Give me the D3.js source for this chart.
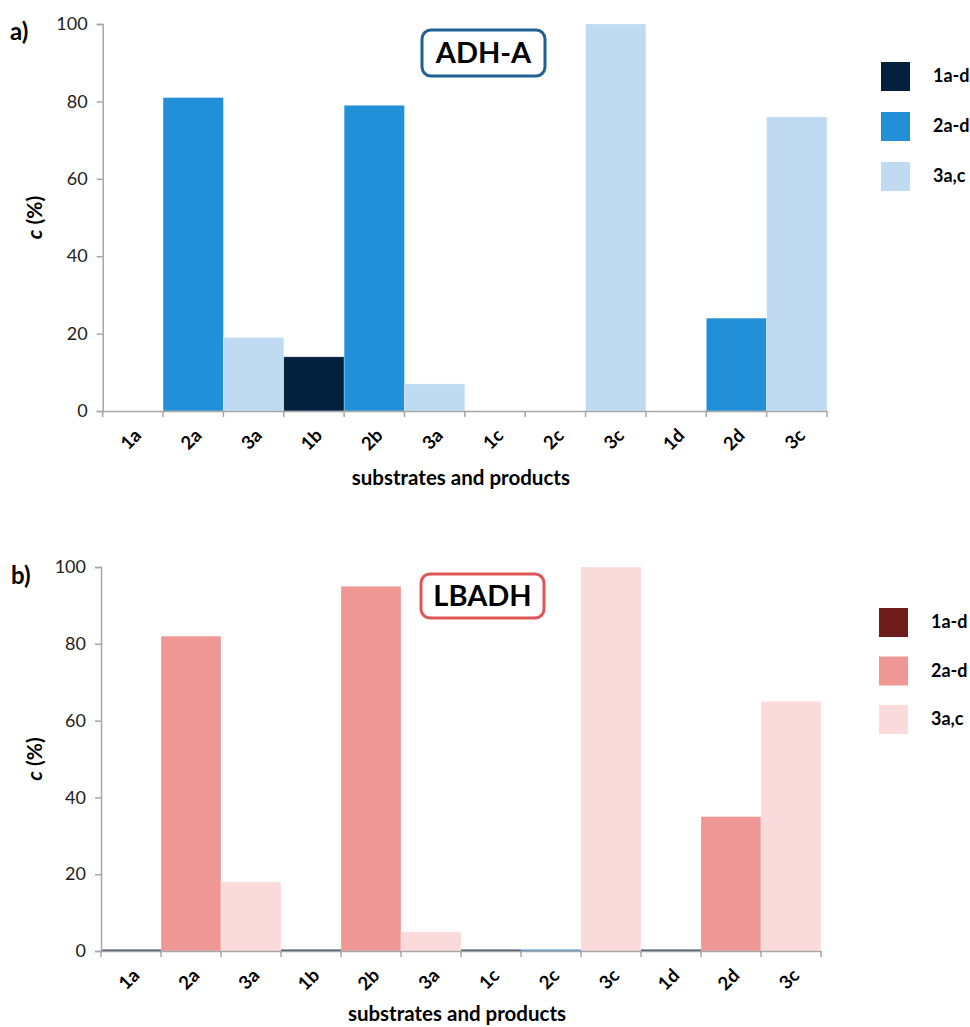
<!DOCTYPE html>
<html><head><meta charset="utf-8">
<script src="https://cdn.jsdelivr.net/npm/d3@7"></script>
<style>body{margin:0;background:#fff}svg{display:block}text{font-family:Lato,"Open Sans",sans-serif}</style>
</head><body>
<svg id="c" width="970" height="1027"></svg>
<script>
const categories = ["1a","2a","3a","1b","2b","3a","1c","2c","3c","1d","2d","3c"];
const compoundType = ["1","2","3","1","2","3","1","2","3","1","2","3"];
const valuesA = [0,81,19,14,79,7,0,0,100,0,24,76];
const valuesB = [0,82,18,0,95,5,0,0,100,0,35,65];
// tiny near-zero slivers visible on panel b baseline
const stubsB = [0.4,0,0,0.4,0,0,0.4,0.4,0,0.4,0,0];
const stubColorsB = ["#44546a","","","#44546a","","","#44546a","#5b9bd5","","#44546a","",""];
const yTicks = [0,20,40,60,80,100];
const legendLabels = ["1a-d","2a-d","3a,c"];
const colorsA = {"1":"#03203f","2":"#2190d8","3":"#c0daf2"};
const colorsB = {"1":"#6e1c1c","2":"#ef9794","3":"#fbdadb"};

const svg = d3.select("#c");

function panel(opt){
  const g = svg.append("g");
  const x = d3.scaleBand().domain(d3.range(categories.length)).range([opt.x0, opt.x1]).padding(0);
  const y = d3.scaleLinear().domain([0,100]).range([opt.yb, opt.yt]);
  g.selectAll("rect.bar").data(opt.values).join("rect")
    .attr("x",(d,i)=>x(i)).attr("width",x.bandwidth())
    .attr("y",d=>y(d)).attr("height",d=>y(0)-y(d))
    .attr("fill",(d,i)=>opt.colors[compoundType[i]])
    .attr("stroke","#fff").attr("stroke-width",0.6).attr("stroke-opacity",0.5);
  if(opt.stubs){
    g.selectAll("rect.stub").data(opt.stubs).join("rect")
      .attr("x",(d,i)=>x(i)).attr("width",x.bandwidth())
      .attr("y",d=>y(d)).attr("height",d=>y(0)-y(d))
      .attr("fill",(d,i)=>opt.stubColors[i]||"none");
  }
  const ya = g.append("g").attr("transform",`translate(${opt.x0},0)`)
    .call(d3.axisLeft(y).tickValues(yTicks).tickSize(6).tickPadding(9));
  ya.select(".domain").attr("stroke","#a6a6a6").attr("stroke-width",1.5);
  ya.selectAll(".tick line").attr("stroke","#a6a6a6").attr("stroke-width",1.5);
  ya.selectAll(".tick text").attr("fill","#222").style("font-size","18px").style("font-family","Lato,sans-serif");
  const xa = g.append("g").attr("transform",`translate(0,${opt.yb})`)
    .call(d3.axisBottom(x).tickSize(0).tickFormat(""));
  xa.select(".domain").attr("stroke","#a6a6a6").attr("stroke-width",1.5);
  const edges = d3.range(categories.length+1).map(i=>opt.x0 + i*x.bandwidth());
  g.selectAll("line.xt").data(edges).join("line")
    .attr("x1",d=>d).attr("x2",d=>d).attr("y1",opt.yb).attr("y2",opt.yb+6)
    .attr("stroke","#a6a6a6").attr("stroke-width",1.5);
  g.selectAll("text.xl").data(categories).join("text")
    .attr("transform",(d,i)=>`translate(${x(i)+x.bandwidth()/2+5},${opt.yb+21}) rotate(-45)`)
    .attr("text-anchor","end").attr("dy","0.35em")
    .style("font-size","18.5px").style("font-weight","700").attr("fill","#000")
    .text(d=>d);
  g.append("text").attr("x",(opt.x0+opt.x1)/2 - 4).attr("y",opt.yb+opt.tOff)
    .attr("text-anchor","middle").style("font-size","20.5px").style("font-weight","700")
    .text("substrates and products");
  const yt = g.append("text").attr("transform",`translate(42,${(opt.yt+opt.yb)/2}) rotate(-90)`)
    .attr("text-anchor","middle").style("font-size","21px").style("font-weight","700");
  yt.append("tspan").style("font-style","italic").text("c");
  yt.append("tspan").text(" (%)");
  g.append("text").attr("x",opt.lx).attr("y",opt.ly).style("font-size","24px").style("font-weight","700").text(opt.label);
  g.append("rect").attr("x",opt.bx).attr("y",opt.by).attr("width",123).attr("height",opt.bh)
    .attr("rx",9).attr("fill","#fff").attr("stroke",opt.boxColor).attr("stroke-width",3);
  g.append("text").attr("x",opt.bx+61.5).attr("y",opt.by+opt.bh/2).attr("dy","0.36em")
    .attr("text-anchor","middle").style("font-size","29px").style("font-weight","700").text(opt.title);
  const lg = g.selectAll("g.leg").data(legendLabels).join("g")
    .attr("transform",(d,i)=>`translate(${opt.legX},${opt.legY + i*opt.legStep})`);
  lg.append("rect").attr("x",0).attr("y",-14).attr("width",29).attr("height",29)
    .attr("fill",(d,i)=>opt.colors[String(i+1)]);
  lg.append("text").attr("x",52).attr("y",0).attr("dy","0.35em")
    .style("font-size","18px").style("font-weight","700").text(d=>d);
}

panel({x0:102.7,x1:827,yb:411,yt:24,values:valuesA,colors:colorsA,tOff:74,
  label:"a)",lx:10,ly:40,title:"ADH-A",bx:422,by:30,bh:46,boxColor:"#1f6190",
  legX:881,legY:76,legStep:50});
panel({x0:101,x1:821,yb:951,yt:567,values:valuesB,colors:colorsB,stubs:stubsB,stubColors:stubColorsB,tOff:70,
  label:"b)",lx:11,ly:584,title:"LBADH",bx:421,by:574,bh:44,boxColor:"#e05656",
  legX:879,legY:622,legStep:48.5});
</script>
</body></html>
